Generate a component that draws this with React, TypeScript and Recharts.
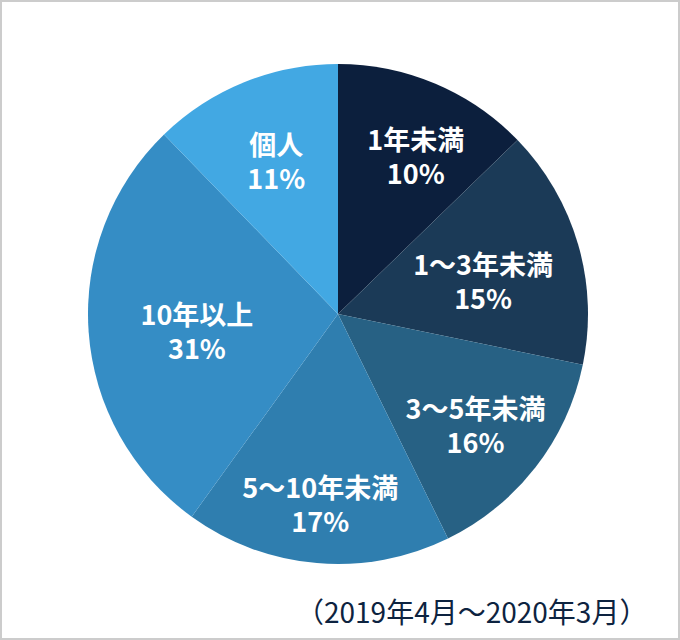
import React from "react";
import { PieChart, Pie, Cell } from "recharts";

const categories = ["1年未満", "1～3年未満", "3～5年未満", "5～10年未満", "10年以上", "個人"];
// slice sizes as drawn (angular share)
const sliceValues = [12.75, 15.5, 14.5, 17.2, 27.8, 12.25];
// percentage labels printed on the slices
const percentLabels = ["10%", "15%", "16%", "17%", "31%", "11%"];
const footnote = "（2019年4月～2020年3月）";

const COLORS = ["#0c1f3d", "#1b3a57", "#276184", "#2f7eaf", "#358dc5", "#42a8e3"];
const LABEL_RADIUS = [177, 149, 176, 190, 142, 166];
const LABEL_ANGLE_SHIFT = [3.1, 3.0, 0.8, 0.5, -2.3, 0.2];

const data = categories.map((name, i) => ({ name, value: sliceValues[i], pct: percentLabels[i] }));

const RAD = Math.PI / 180;
const FONT = '"Noto Sans CJK JP", "Noto Sans", sans-serif';

const renderLabel = (props: any) => {
  const { cx, cy, midAngle, index } = props;
  const a = midAngle - LABEL_ANGLE_SHIFT[index];
  const r = LABEL_RADIUS[index];
  const x = cx + r * Math.cos(-a * RAD);
  const y = cy + r * Math.sin(-a * RAD);
  return (
    <text
      x={x}
      y={y}
      fill="#ffffff"
      textAnchor="middle"
      dominantBaseline="central"
      fontFamily={FONT}
      fontWeight={700}
      fontSize={27}
    >
      <tspan x={x} dy={-17}>{categories[index]}</tspan>
      <tspan x={x} dy={34}>{percentLabels[index]}</tspan>
    </text>
  );
};

export default function App() {
  return (
    <div style={{ position: "absolute", left: 0, top: 0, width: 680, height: 640, background: "#fff" }}>
      <PieChart
        width={680}
        height={640}
        margin={{ top: 0, right: 0, bottom: 0, left: 0 }}
        style={{ position: "absolute", left: 0, top: 0 }}
      >
        <Pie
          data={data}
          dataKey="value"
          nameKey="name"
          cx={338}
          cy={314}
          outerRadius={250}
          startAngle={90}
          endAngle={-270}
          stroke="none"
          label={renderLabel}
          labelLine={false}
          isAnimationActive={false}
        >
          {data.map((d, i) => (
            <Cell key={d.name} fill={COLORS[i]} />
          ))}
        </Pie>
      </PieChart>
      <div
        style={{
          position: "absolute",
          left: 296,
          top: 595,
          fontFamily: FONT,
          fontSize: 28,
          lineHeight: "32px",
          color: "#0d2340",
          whiteSpace: "nowrap",
        }}
      >
        {footnote}
      </div>
      <div
        style={{
          position: "absolute",
          left: 0,
          top: 0,
          width: 680,
          height: 640,
          boxSizing: "border-box",
          border: "2px solid #cccccc",
          pointerEvents: "none",
        }}
      />
    </div>
  );
}
